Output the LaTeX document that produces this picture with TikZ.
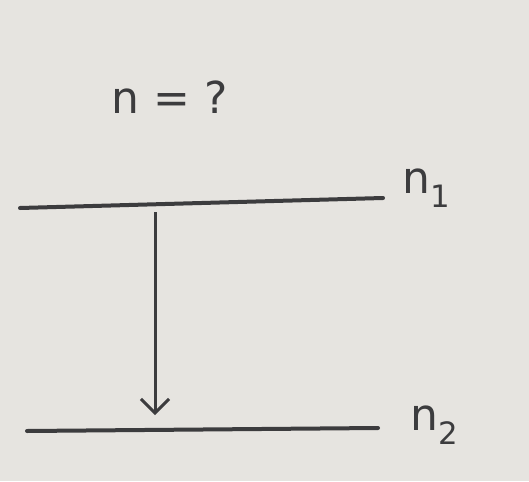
\documentclass[tikz,border=0pt]{standalone}
\usepackage{fontspec}
\setmainfont{DejaVu Sans}
\usetikzlibrary{arrows.meta}
\definecolor{paper}{HTML}{E6E4E0}
\definecolor{ink}{HTML}{3C3C3E}
\tikzset{
  level/.style={draw=ink, line width=4pt, line cap=round},
  trans/.style={draw=ink, line width=3pt, -{Straight Barb[length=14pt,width=28pt,line width=3pt]}},
  lbl/.style={text=ink, inner sep=0pt, font=\fontsize{44}{48}\selectfont}
}
\begin{document}
\begin{tikzpicture}[x=1pt,y=-1pt]
\fill[paper] (0,0) rectangle (529,481);
\useasboundingbox (0,0) rectangle (529,481);
\coordinate (u1) at (20,208);
\coordinate (u2) at (383,198);
\coordinate (l1) at (27,431);
\coordinate (l2) at (378,428);
\draw[level] (u1) -- (u2);
\draw[level] (l1) -- (l2);
\coordinate (a1) at (155,212);
\coordinate (a2) at (155,415);
\draw[trans] (a1) -- (a2);
\node[lbl] (q) at (170,97) {n\hspace{14pt}=\hspace{14pt}?};
\node[lbl, anchor=west] (n1) at (402,188) {n\textsubscript{1}};
\node[lbl, anchor=west] (n2) at (410,425) {n\textsubscript{2}};
\end{tikzpicture}
\end{document}
